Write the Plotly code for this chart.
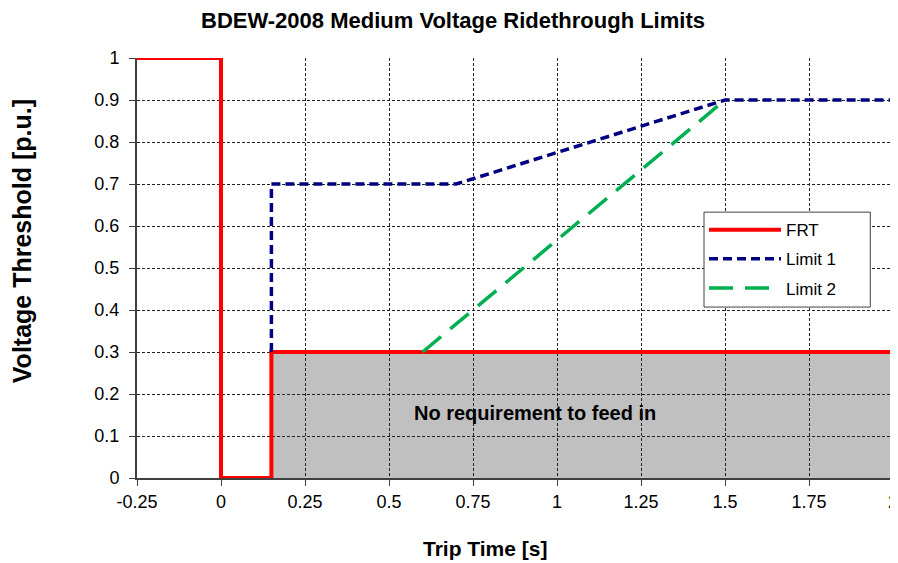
import plotly.graph_objects as go

# FRT envelope (red), Limit 1 (navy dashed), Limit 2 (green long dash)
frt_time = [-0.25, 0, 0, 0.15, 0.15, 2]
frt_volt = [1, 1, 0, 0, 0.3, 0.3]
lim1_time = [0.15, 0.15, 0.7, 1.5, 2]
lim1_volt = [0.3, 0.7, 0.7, 0.9, 0.9]
lim2_time = [0.6, 1.5]
lim2_volt = [0.3, 0.9]

x_ticks = [-0.25, 0, 0.25, 0.5, 0.75, 1, 1.25, 1.5, 1.75, 2]
x_ticktext = ['-0.25', '0', '0.25', '0.5', '0.75', '1', '1.25', '1.5', '1.75', '2']
y_ticks = [0, 0.1, 0.2, 0.3, 0.4, 0.5, 0.6, 0.7, 0.8, 0.9, 1]
y_ticktext = ['0', '0.1', '0.2', '0.3', '0.4', '0.5', '0.6', '0.7', '0.8', '0.9', '1']

font = 'Liberation Sans, Arial, sans-serif'

fig = go.Figure()
fig.add_trace(go.Scatter(x=frt_time, y=frt_volt, name='FRT', mode='lines',
                         legendgroup='a',
                         line=dict(color='#ff0000', width=4)))
fig.add_trace(go.Scatter(x=lim1_time, y=lim1_volt, name='Limit 1', mode='lines',
                         legendgroup='b',
                         line=dict(color='#000080', width=3.5, dash='9px,5px')))
fig.add_trace(go.Scatter(x=lim2_time, y=lim2_volt, name='Limit 2', mode='lines',
                         legendgroup='c',
                         line=dict(color='#00b050', width=3.5, dash='24px,12px')))

# grey "no requirement" area, under the gridlines
fig.add_shape(type='rect', layer='below', line_width=0, fillcolor='#c0c0c0',
              x0=frt_time[3], x1=frt_time[-1], y0=frt_volt[2], y1=frt_volt[-1])

# legend frame is wider than plotly's own, so draw it as a box
fig.add_shape(type='rect', layer='above', xref='paper', yref='paper',
              x0=0.75, x1=0.97, y0=0.407, y1=0.633,
              fillcolor='white', line=dict(color='#404040', width=1))

fig.add_annotation(x=0.935, y=0.155, text='<b>No requirement to feed in</b>',
                   showarrow=False, font=dict(size=20, color='black', family=font))

# axis titles sit a little off-centre in the original, so place them by hand
fig.add_annotation(xref='paper', yref='paper', x=-0.152, y=0.564,
                   text='<b>Voltage Threshold [p.u.]</b>', textangle=-90,
                   showarrow=False, xanchor='center', yanchor='middle',
                   font=dict(size=25))
fig.add_annotation(xref='paper', yref='paper', x=0.46, y=-0.167,
                   text='<b>Trip Time [s]</b>',
                   showarrow=False, xanchor='center', yanchor='middle',
                   font=dict(size=21))

# page body has an 8px margin, so the figure is a bit smaller than the window
fig.update_layout(
    width=890, height=555,
    plot_bgcolor='white', paper_bgcolor='white',
    margin=dict(l=129, r=5, t=50, b=85, autoexpand=False),
    font=dict(family=font, size=18, color='black'),
    title=dict(text='<b>BDEW-2008 Medium Voltage Ridethrough Limits</b>',
               x=0.5, xanchor='center', y=0.978, yanchor='middle',
               font=dict(size=22)),
    legend=dict(x=0.75, y=0.633, xanchor='left', yanchor='top',
                bgcolor='rgba(0,0,0,0)', borderwidth=0,
                font=dict(size=17), traceorder='grouped', tracegroupgap=4,
                itemwidth=72),
)
fig.update_xaxes(
    range=[-0.25, 2], tickvals=x_ticks, ticktext=x_ticktext,
    ticks='outside', ticklen=6, tickcolor='#404040', automargin=False,
    ticklabeloverflow='allow',
    showline=True, linecolor='#404040', linewidth=2,
    showgrid=True, gridcolor='#222222', gridwidth=1, griddash='3px,2px',
    zeroline=False,
)
fig.update_yaxes(
    range=[0, 1], tickvals=y_ticks, ticktext=y_ticktext,
    ticks='outside', ticklen=6, tickcolor='#404040', automargin=False,
    ticklabelstandoff=6,
    showline=True, linecolor='#404040', linewidth=2,
    showgrid=True, gridcolor='#222222', gridwidth=1, griddash='3px,2px',
    zeroline=False,
)

fig.write_html("out.html")
